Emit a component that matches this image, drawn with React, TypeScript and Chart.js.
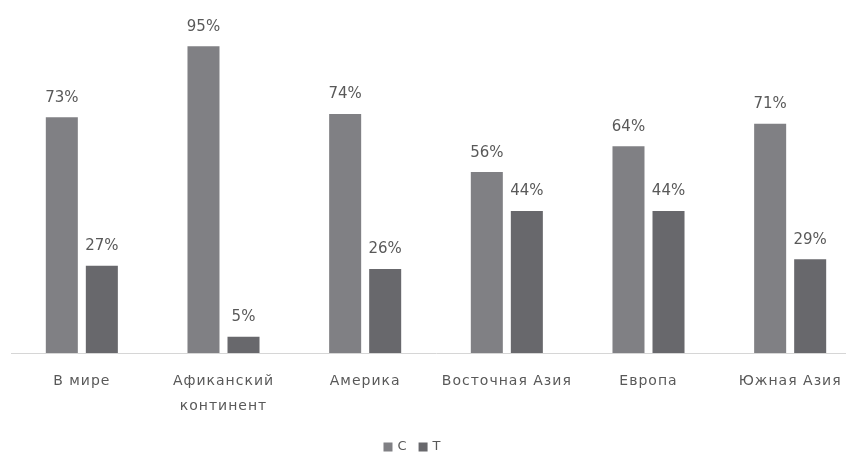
import React, { useEffect, useRef } from "react";
import { Chart, registerables } from "chart.js";

Chart.register(...registerables);

const categories: (string | string[])[] = [
  "В мире",
  ["Афиканский", "континент"],
  "Америка",
  "Восточная Азия",
  "Европа",
  "Южная Азия",
];
const seriesC = [73, 95, 74, 56, 64, 71];
const seriesT = [27, 5, 26, 44, 44, 29];
const seriesNames = ["C", "T"];
const colorC = "#808084";
const colorT = "#68686c";
const textColor = "#595959";
const FONT = "'DejaVu Sans', sans-serif";

const spacing = {
  id: "spacing",
  beforeDraw(chart: any) {
    chart.ctx.letterSpacing = "1px";
  },
};

const valueLabels = {
  id: "valueLabels",
  afterDatasetsDraw(chart: any) {
    const ctx = chart.ctx;
    ctx.save();
    ctx.letterSpacing = "0px";
    ctx.font = `15px ${FONT}`;
    ctx.fillStyle = textColor;
    ctx.textAlign = "center";
    ctx.textBaseline = "bottom";
    chart.data.datasets.forEach((ds: any, i: number) => {
      const meta = chart.getDatasetMeta(i);
      meta.data.forEach((bar: any, j: number) => {
        ctx.fillText(ds.data[j] + "%", bar.x, bar.y - 12);
      });
    });
    ctx.restore();
  },
};

const customLegend = {
  id: "customLegend",
  afterDraw(chart: any) {
    const ctx = chart.ctx;
    ctx.save();
    ctx.letterSpacing = "0px";
    ctx.font = `13px ${FONT}`;
    ctx.textBaseline = "middle";
    ctx.textAlign = "left";
    const cy = 447;
    const box = 9;
    const colors = [colorC, colorT];
    const gapAfterBox = 5;
    const gapBetween = 12;
    const widths = seriesNames.map((n) => box + gapAfterBox + ctx.measureText(n).width);
    const total = widths.reduce((a, b) => a + b, 0) + gapBetween * (widths.length - 1);
    let x = 412 - total / 2;
    seriesNames.forEach((n, i) => {
      ctx.fillStyle = colors[i];
      ctx.fillRect(x, cy - box / 2, box, box);
      ctx.fillStyle = textColor;
      ctx.fillText(n, x + box + gapAfterBox, cy);
      x += widths[i] + gapBetween;
    });
    ctx.restore();
  },
};

export default function App() {
  const ref = useRef<HTMLCanvasElement | null>(null);
  useEffect(() => {
    if (!ref.current) return;
    const chart = new Chart(ref.current, {
      type: "bar",
      data: {
        labels: categories,
        datasets: [
          {
            label: seriesNames[0],
            data: seriesC,
            backgroundColor: colorC,
            categoryPercentage: 0.565,
            barPercentage: 0.8,
          },
          {
            label: seriesNames[1],
            data: seriesT,
            backgroundColor: colorT,
            categoryPercentage: 0.565,
            barPercentage: 0.8,
          },
        ],
      },
      options: {
        responsive: false,
        animation: false,
        layout: { padding: { left: 11, right: 9, top: 30, bottom: 0 } },
        plugins: {
          legend: { display: false },
          tooltip: { enabled: false },
        },
        scales: {
          y: { display: false, min: 0, max: 100 },
          x: {
            grid: { display: false, drawTicks: false },
            border: { display: true, color: "#d6d6d6", width: 1 },
            ticks: {
              color: textColor,
              font: { family: FONT, size: 14, lineHeight: 1.8 },
              padding: 16,
              maxRotation: 0,
              autoSkip: false,
            },
            afterFit: (scale: any) => {
              scale.height = 101;
            },
          },
        },
      },
      plugins: [spacing, valueLabels, customLegend],
    });
    return () => chart.destroy();
  }, []);
  return (
    <div style={{ position: "absolute", left: 0, top: 0, width: 846, height: 454, overflow: "hidden", background: "#fff" }}>
      <canvas ref={ref} width={870} height={454} />
    </div>
  );
}
